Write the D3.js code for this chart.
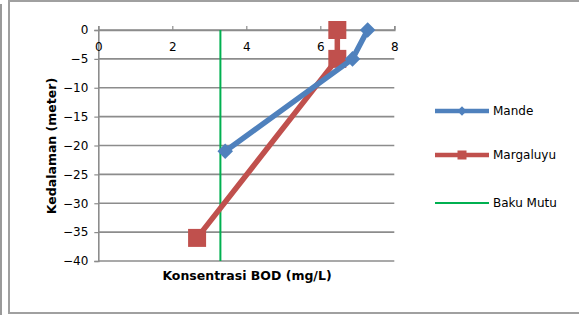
<!DOCTYPE html>
<html>
<head>
<meta charset="utf-8">
<script src="https://cdn.jsdelivr.net/npm/d3@7"></script>
<style>
  body { margin: 0; background: #fff; }
  svg { display: block; font-family: Tahoma, "DejaVu Sans", Verdana, sans-serif; }
</style>
</head>
<body>
<svg id="chart" width="579" height="315"></svg>
<script>
// data
const mandeBod = [7.28, 6.87, 3.43];
const mandeDepth = [0, -5, -21];
const margaluyuBod = [6.46, 6.46, 2.67];
const margaluyuDepth = [0, -5, -36];
const bakuMutu = 3.3;
const xTicks = [0, 2, 4, 6, 8];
const yTicks = [0, -5, -10, -15, -20, -25, -30, -35, -40];

const seriesNames = ["Mande", "Margaluyu", "Baku Mutu"];
const colors = { Mande: "#4f81bd", Margaluyu: "#c0504d", "Baku Mutu": "#00b050" };

const svg = d3.select("#chart");

// chart frame
svg.append("rect").attr("x", 0).attr("y", 4).attr("width", 2).attr("height", 311).attr("fill", "#9a9a9a");
svg.append("rect").attr("x", 9).attr("y", 1).attr("width", 580).attr("height", 312)
  .attr("fill", "#fff").attr("stroke", "#a0a0a0").attr("stroke-width", 2);

const x = d3.scaleLinear().domain([0, 8]).range([98.3, 394.3]);
const y = d3.scaleLinear().domain([0, -40]).range([30, 261]);

// horizontal grid
svg.append("g")
  .selectAll("line")
  .data(yTicks)
  .join("line")
  .attr("x1", x(0)).attr("x2", x(8))
  .attr("y1", d => y(d)).attr("y2", d => y(d))
  .attr("stroke", "#8c8c8c").attr("stroke-width", 1.6);

// y axis
const yAxis = svg.append("g")
  .attr("transform", `translate(${x(0)},0)`)
  .call(d3.axisLeft(y).tickValues(yTicks).tickSize(4).tickPadding(6).tickFormat(d3.format("d")));
yAxis.select(".domain").attr("stroke", "#8c8c8c").attr("stroke-width", 1.6);
yAxis.selectAll(".tick line").attr("stroke", "#8c8c8c").attr("stroke-width", 1.2);
yAxis.selectAll(".tick text").attr("font-size", 12).attr("fill", "#000")
  .attr("font-family", "Tahoma, 'DejaVu Sans', sans-serif");

// x axis on top at depth 0, labels below
const xAxis = svg.append("g")
  .attr("transform", `translate(0,${y(0)})`)
  .call(d3.axisTop(x).tickValues(xTicks).tickSize(4).tickFormat(d3.format("d")));
xAxis.select(".domain").attr("stroke", "#8c8c8c").attr("stroke-width", 1.6);
xAxis.selectAll(".tick line").attr("stroke", "#8c8c8c").attr("stroke-width", 1.2);
xAxis.selectAll(".tick text").attr("font-size", 12).attr("fill", "#000")
  .attr("y", 12).attr("dy", "0.71em")
  .attr("font-family", "Tahoma, 'DejaVu Sans', sans-serif");

// baku mutu line
svg.append("line")
  .attr("x1", x(bakuMutu)).attr("x2", x(bakuMutu))
  .attr("y1", y(0)).attr("y2", y(-40))
  .attr("stroke", colors["Baku Mutu"]).attr("stroke-width", 2);

const line = d3.line().x(d => x(d[0])).y(d => y(d[1]));

const mande = d3.zip(mandeBod, mandeDepth);
const margaluyu = d3.zip(margaluyuBod, margaluyuDepth);

svg.append("path").datum(margaluyu).attr("d", line)
  .attr("fill", "none").attr("stroke", colors.Margaluyu).attr("stroke-width", 5.5);
svg.append("g").selectAll("rect").data(margaluyu).join("rect")
  .attr("x", d => x(d[0]) - 9).attr("y", d => y(d[1]) - 9)
  .attr("width", 18).attr("height", 18)
  .attr("fill", colors.Margaluyu);

svg.append("path").datum(mande).attr("d", line)
  .attr("fill", "none").attr("stroke", colors.Mande).attr("stroke-width", 5.5);
svg.append("g").selectAll("path").data(mande).join("path")
  .attr("transform", d => `translate(${x(d[0])},${y(d[1])}) rotate(45)`)
  .attr("d", "M-5.5,-5.5H5.5V5.5H-5.5Z")
  .attr("fill", colors.Mande);

// axis titles
svg.append("text")
  .attr("x", 247).attr("y", 280)
  .attr("text-anchor", "middle")
  .attr("font-size", 12.5).attr("font-weight", "bold")
  .text("Konsentrasi BOD (mg/L)");

svg.append("text")
  .attr("transform", "translate(56,146) rotate(-90)")
  .attr("text-anchor", "middle")
  .attr("font-size", 12.5).attr("font-weight", "bold")
  .text("Kedalaman (meter)");

// legend
const legendY = [111, 155, 203];
const legend = svg.append("g").selectAll("g").data(seriesNames).join("g")
  .attr("transform", (d, i) => `translate(0,${legendY[i]})`);

legend.append("line")
  .attr("x1", 435).attr("x2", 489)
  .attr("stroke", d => colors[d])
  .attr("stroke-width", d => d === "Baku Mutu" ? 2 : 4.5);

legend.filter(d => d === "Mande").append("path")
  .attr("transform", "translate(462,0) rotate(45)")
  .attr("d", "M-3.3,-3.3H3.3V3.3H-3.3Z")
  .attr("fill", colors.Mande);

legend.filter(d => d === "Margaluyu").append("rect")
  .attr("x", 457.5).attr("y", -4.5).attr("width", 9).attr("height", 9)
  .attr("fill", colors.Margaluyu);

legend.append("text")
  .attr("x", 493).attr("dy", "0.35em")
  .attr("font-size", 12)
  .text(d => d);
</script>
</body>
</html>
